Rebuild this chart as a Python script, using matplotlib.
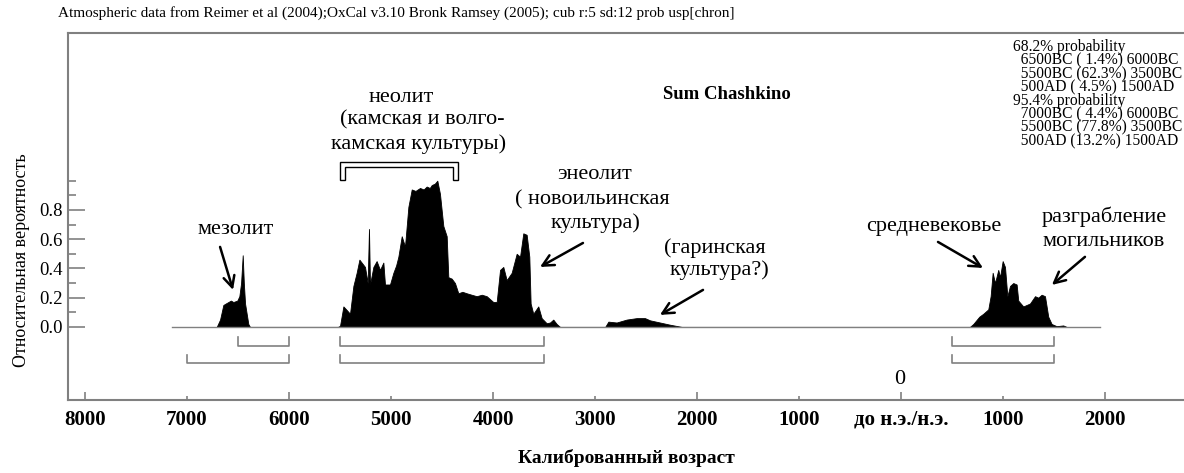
import numpy as np
import matplotlib
matplotlib.use("Agg")
import matplotlib.pyplot as plt
from matplotlib.patches import Polygon

plt.rcParams['font.family'] = ['Liberation Serif', 'DejaVu Serif']

# --- data (calendar years, BC negative) ---
meso_years = [-6709, -6676, -6644, -6620, -6595, -6570, -6546, -6507, -6487, -6470, -6454, -6443, -6431, -6399, -6383]
meso_prob = [0.0, 0.05, 0.15, 0.16, 0.17, 0.18, 0.17, 0.18, 0.21, 0.30, 0.49, 0.30, 0.16, 0.02, 0.0]

neo_years = [-5520, -5500, -5467, -5435, -5402, -5369, -5337, -5310, -5288, -5255, -5229, -5216, -5206,
             -5173, -5141, -5108, -5075, -5059, -5010, -4977, -4950, -4928, -4895, -4863, -4830, -4797,
             -4760, -4716, -4680, -4650, -4620, -4601, -4570, -4546, -4520, -4487, -4454, -4438, -4405,
             -4373, -4340, -4300, -4258, -4210, -4160, -4110, -4062, -3997, -3964, -3931, -3899, -3866,
             -3817, -3768, -3735, -3703, -3670, -3644, -3631, -3605, -3556, -3523, -3474, -3441, -3409,
             -3376, -3343]
neo_prob = [0.0, 0.007, 0.14, 0.116, 0.09, 0.28, 0.37, 0.46, 0.44, 0.41, 0.30, 0.67, 0.29,
            0.41, 0.45, 0.39, 0.44, 0.29, 0.29, 0.37, 0.42, 0.48, 0.62, 0.55, 0.82, 0.94,
            0.93, 0.95, 0.94, 0.96, 0.95, 0.97, 0.98, 1.0, 0.91, 0.69, 0.62, 0.34, 0.33,
            0.30, 0.23, 0.24, 0.23, 0.22, 0.21, 0.22, 0.21, 0.17, 0.17, 0.39, 0.41, 0.32,
            0.37, 0.50, 0.48, 0.64, 0.63, 0.48, 0.16, 0.09, 0.14, 0.06, 0.025, 0.03, 0.05,
            0.02, 0.0]

garin_years = [-2900, -2869, -2788, -2690, -2592, -2510, -2461, -2363, -2265, -2150]
garin_prob = [0.0, 0.036, 0.03, 0.05, 0.06, 0.06, 0.045, 0.03, 0.015, 0.0]

medieval_years = [676, 709, 768, 807, 856, 879, 899, 922, 954, 971, 997, 1020, 1043, 1069, 1101,
                  1134, 1150, 1199, 1265, 1314, 1346, 1379, 1412, 1444, 1477, 1526, 1591, 1624]
medieval_prob = [0.0, 0.02, 0.07, 0.09, 0.12, 0.21, 0.37, 0.30, 0.39, 0.34, 0.45, 0.41, 0.21, 0.28, 0.30,
                 0.29, 0.18, 0.14, 0.16, 0.21, 0.20, 0.22, 0.21, 0.07, 0.02, 0.005, 0.01, 0.0]

baseline_span = (-7150, 1950)

# highest probability density ranges
range68 = [(-6500, -6000), (-5500, -3500), (500, 1500)]
pct68 = [1.4, 62.3, 4.5]
range95 = [(-7000, -6000), (-5500, -3500), (500, 1500)]
pct95 = [4.4, 77.8, 13.2]

neolith_span = (-5500, -4345)

xmajor = [-8000, -6000, -4000, -2000, 0, 2000]
xmajor_labels = ['8000', '6000', '4000', '2000', 'до н.э./н.э.', '2000']
xminor = [-7000, -5000, -3000, -1000, 1000]
xminor_labels = ['7000', '5000', '3000', '1000', '1000']
ymajor = [0.0, 0.2, 0.4, 0.6, 0.8]
yminor = [0.1, 0.3, 0.5, 0.7, 0.9, 1.0]

title = "Atmospheric data from Reimer et al (2004);OxCal v3.10 Bronk Ramsey (2005); cub r:5 sd:12 prob usp[chron]"

GREY = '#808080'


def fmt_year(y):
    return f"{-y}BC" if y < 0 else f"{y}AD"


years = np.concatenate([meso_years, neo_years, garin_years, medieval_years])
probs = np.concatenate([meso_prob, neo_prob, garin_prob, medieval_prob])

fig = plt.figure(figsize=(11.84, 4.73), dpi=100)
ax = fig.add_axes([68 / 1184, 1 - 400 / 473, 1 - 68 / 1184, 367 / 473])
ax.set_xlim(-8167, 2775)
ax.set_ylim(-0.5, 2.01)

# baseline and distribution
ax.plot(baseline_span, [0, 0], color=GREY, lw=1.0)
ax.fill_between(years, 0, probs, color='black', lw=0.6, edgecolor='black')

# range brackets
for rows, ybar, yleg in [(range68, -0.13, -0.07), (range95, -0.246, -0.19)]:
    for a, b in rows:
        ax.plot([a, a, b, b], [yleg, ybar, ybar, yleg], color=GREY, lw=1.2)

# spines & ticks
ax.spines['right'].set_visible(False)
for s in ['left', 'bottom', 'top']:
    ax.spines[s].set_color(GREY)
    ax.spines[s].set_linewidth(1.5)

ax.set_xticks(xmajor, labels=xmajor_labels)
ax.set_xticks(xminor, labels=xminor_labels, minor=True)
ax.set_yticks(ymajor, labels=[f"{v:.1f}" for v in ymajor])
ax.set_yticks(yminor, minor=True)
ax.tick_params(axis='x', which='major', direction='in', length=6, width=1.2, color=GREY, pad=7)
ax.tick_params(axis='x', which='minor', direction='in', length=3, width=1.2, color=GREY, pad=7)
ax.tick_params(axis='y', which='major', direction='in', length=12, width=1.2, color=GREY, pad=4, labelsize=13.5)
ax.tick_params(axis='y', which='minor', direction='in', length=6, width=1.2, color=GREY)
for lab in ax.get_xticklabels(which='both'):
    lab.set_fontsize(15)
    lab.set_fontweight('bold')

# texts
fig.text(58 / 1184, 1 - 13 / 473, title, fontsize=11, ha='left', va='center')
fig.text(22 / 1184, 1 - 260 / 473, 'Относительная вероятность', rotation=90, fontsize=13, ha='center', va='center')
fig.text(626 / 1184, 1 - 458 / 473, 'Калиброванный возраст', fontsize=14, fontweight='bold', ha='center', va='center')

ax.text(-2333, 1.586, 'Sum Chashkino', fontsize=13.5, fontweight='bold', ha='left', va='center')
ax.text(-10, -0.362, '0', fontsize=16, ha='center', va='center')

afs = 16
ax.text(-6520, 0.663, 'мезолит', fontsize=afs, ha='center', va='center')
ax.text(-4902, 1.566, 'неолит', fontsize=afs, ha='center', va='center')
ax.text(-4696, 1.415, '(камская и волго-', fontsize=afs, ha='center', va='center')
ax.text(-4725, 1.251, 'камская культуры)', fontsize=afs, ha='center', va='center')
ax.text(-3000, 1.039, 'энеолит', fontsize=afs, ha='center', va='center')
ax.text(-3029, 0.868, '( новоильинская', fontsize=afs, ha='center', va='center')
ax.text(-2990, 0.711, 'культура)', fontsize=afs, ha='center', va='center')
ax.text(-1824, 0.540, '(гаринская', fontsize=afs, ha='center', va='center')
ax.text(-1775, 0.390, 'культура?)', fontsize=afs, ha='center', va='center')
ax.text(324, 0.684, 'средневековье', fontsize=afs, ha='center', va='center')
ax.text(1990, 0.752, 'разграбление', fontsize=afs, ha='center', va='center')
ax.text(1990, 0.581, 'могильников', fontsize=afs, ha='center', va='center')

arrows = [((-6676, 0.547), (-6549, 0.253)),
          ((-3118, 0.574), (-3539, 0.41)),
          ((-1941, 0.253), (-2363, 0.082)),
          ((363, 0.581), (804, 0.403)),
          ((1804, 0.479), (1480, 0.287))]
for tail, tip in arrows:
    ax.annotate('', xy=tip, xytext=tail,
                arrowprops=dict(arrowstyle='->', lw=1.8, color='black', mutation_scale=20,
                                shrinkA=0, shrinkB=0))

# neolith bracket (hollow)
x0, x1 = neolith_span
w, yt, yi, yb = 50, 1.128, 1.094, 1.005
ax.add_patch(Polygon([(x0, yb), (x0, yt), (x1, yt), (x1, yb), (x1 - w, yb), (x1 - w, yi),
                      (x0 + w, yi), (x0 + w, yb)], closed=True, facecolor='white',
                     edgecolor='black', lw=1.0))

# probability legend, one text block (runs off the right edge, as in the original)
leg = ["68.2% probability"] + [f"  {fmt_year(a)} ({p:4.1f}%) {fmt_year(b)}" for (a, b), p in zip(range68, pct68)]
leg += ["95.4% probability"] + [f"  {fmt_year(a)} ({p:4.1f}%) {fmt_year(b)}" for (a, b), p in zip(range95, pct95)]
fig.text(1013 / 1184, 1 - 39 / 473, "\n".join(leg), fontsize=11.2, ha='left', va='top',
         linespacing=0.79)

fig.savefig('out.png', dpi=100)
